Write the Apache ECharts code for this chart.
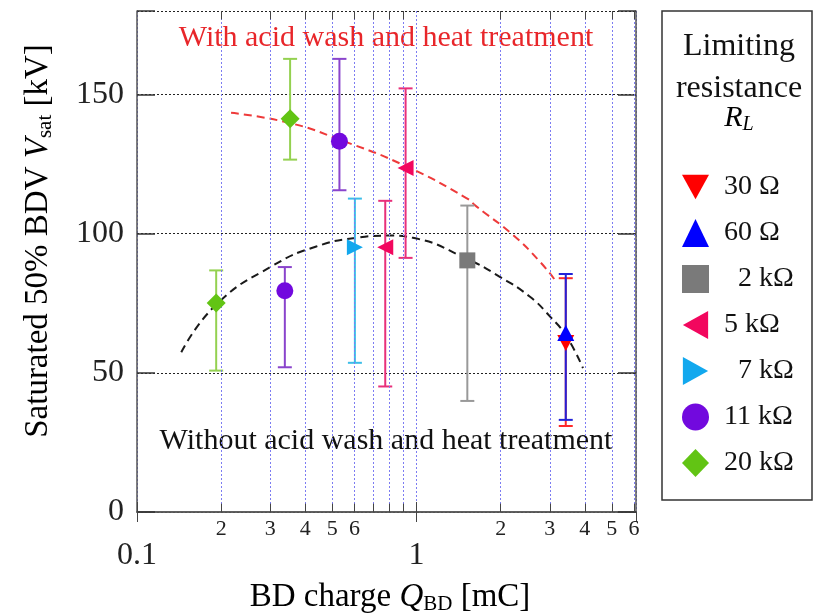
<!DOCTYPE html>
<html>
<head>
<meta charset="utf-8">
<script src="https://cdn.jsdelivr.net/npm/echarts@6/dist/echarts.min.js"></script>
<style>
html, body { margin: 0; padding: 0; background: #fff; }
#main { width: 814px; height: 616px; }
</style>
</head>
<body>
<div id="main"></div>
<script>
// each point: [Q_BD (mC), V_sat (kV), lower end of bar, upper end of bar]
var r30 = [[3.42, 60.7, 30.9, 84.0]];
var r60 = [[3.42, 64.3, 33.1, 85.5]];
var r2k = [[1.52, 90.4, 39.9, 110.1]];
var r5k = [[0.773, 95.1, 45.1, 111.8], [0.914, 123.6, 91.3, 152.2]];
var r7k = [[0.602, 95.1, 53.6, 112.6]];
var r11k = [[0.338, 79.5, 52.0, 88.0], [0.530, 133.2, 115.6, 162.8]];
var r20k = [[0.192, 75.1, 50.8, 86.8], [0.353, 141.3, 126.6, 162.8]];

// dashed trend curves
var fitWith = [[0.217, 143.4], [0.351, 139.8], [0.530, 133.8], [0.919, 124.2],
  [1.508, 112.8], [1.637, 109.8], [2.21, 99.6], [2.76, 90.0], [3.12, 83.5]];
var fitWithout = [[0.144, 57.4], [0.192, 74.5], [0.306, 88.5], [0.438, 95.4],
  [0.609, 98.5], [0.801, 99.3], [0.971, 98.5], [1.52, 90.9], [1.98, 84.6],
  [2.54, 77.4], [3.0, 70.3], [3.44, 63.1], [3.94, 51.7]];

// log axis minor grid / labels
var xMinorTicks = [0.2, 0.3, 0.4, 0.5, 0.6, 0.7, 0.8, 0.9, 2, 3, 4, 5, 6];
var xMinorLabels = [0.2, 0.3, 0.4, 0.5, 0.6, 2, 3, 4, 5, 6];
var yTicks = [0, 50, 100, 150];

var FONT = '"Liberation Serif", "DejaVu Serif", serif';

var TRI_DOWN = 'path://M0,0L10,0L5,9Z';
var TRI_LEFT = 'path://M9,0L9,10L0,5Z';
var TRI_RIGHT = 'path://M0,0L9,5L0,10Z';

var groups = [
  { name: '30 Ω', data: r30, color: '#ff0000', bar: '#ff2a2a', symbol: TRI_DOWN, size: [17, 16] },
  { name: '60 Ω', data: r60, color: '#0000ff', bar: '#2222d8', symbol: 'triangle', size: [17, 16] },
  { name: '2 kΩ', data: r2k, color: '#7a7a7a', bar: '#999999', symbol: 'rect', size: 16 },
  { name: '5 kΩ', data: r5k, color: '#f2075e', bar: '#e8307a', symbol: TRI_LEFT, size: [16, 16] },
  { name: '7 kΩ', data: r7k, color: '#12a8ee', bar: '#3cbde8', symbol: TRI_RIGHT, size: [16, 16] },
  { name: '11 kΩ', data: r11k, color: '#7209de', bar: '#8a44cc', symbol: 'circle', size: 17 },
  { name: '20 kΩ', data: r20k, color: '#62c414', bar: '#94d150', symbol: 'diamond', size: 19 }
];

function errorBar(color) {
  return function (params, api) {
    var x = api.value(0);
    var top = api.coord([x, api.value(3)]);
    var bot = api.coord([x, api.value(2)]);
    var w = 7;
    var st = { stroke: color, lineWidth: 2 };
    return {
      type: 'group',
      children: [
        { type: 'line', shape: { x1: top[0], y1: top[1], x2: bot[0], y2: bot[1] }, style: st },
        { type: 'line', shape: { x1: top[0] - w, y1: top[1], x2: top[0] + w, y2: top[1] }, style: st },
        { type: 'line', shape: { x1: bot[0] - w, y1: bot[1], x2: bot[0] + w, y2: bot[1] }, style: st }
      ]
    };
  };
}

function minorLabel(v) {
  return String(v < 1 ? Math.round(v * 10) : v);
}

var series = [];

// trend curves, the black one also carries the minor grid
series.push({
  type: 'line',
  name: 'fitWithout',
  data: fitWithout,
  smooth: true,
  showSymbol: false,
  silent: true,
  z: 3,
  lineStyle: { color: '#1a1a1a', width: 2, type: [8, 5] },
  markLine: {
    silent: true,
    symbol: 'none',
    animation: false,
    lineStyle: { color: '#7c7cf2', width: 1, type: [2, 2] },
    label: {
      position: 'start',
      distance: 6,
      fontFamily: FONT,
      fontSize: 22,
      color: '#222'
    },
    data: xMinorTicks.map(function (v) {
      return {
        xAxis: v,
        label: { show: xMinorLabels.indexOf(v) >= 0, formatter: minorLabel(v) }
      };
    })
  }
});
series.push({
  type: 'line',
  name: 'fitWith',
  data: fitWith,
  smooth: true,
  showSymbol: false,
  silent: true,
  z: 3,
  lineStyle: { color: '#ee3a3a', width: 2, type: [8, 5] },
  markLine: {
    silent: true,
    symbol: 'none',
    animation: false,
    label: { show: false },
    lineStyle: { color: '#444', width: 1, type: 'solid' },
    data: xMinorTicks.map(function (v) {
      return [{ coord: [v, 0] }, { coord: [v, 3] }];
    }).concat(xMinorTicks.map(function (v) {
      return [{ coord: [v, 177] }, { coord: [v, 180] }];
    }))
  }
});

groups.forEach(function (g) {
  series.push({
    type: 'custom',
    name: g.name + ' bar',
    data: g.data,
    encode: { x: 0, y: 1 },
    renderItem: errorBar(g.bar),
    silent: true,
    z: 4
  });
});
groups.forEach(function (g) {
  series.push({
    type: 'scatter',
    name: g.name,
    data: g.data.map(function (d) { return [d[0], d[1]]; }),
    symbol: g.symbol,
    symbolSize: g.size,
    itemStyle: { color: g.color, opacity: 1 },
    z: 5
  });
});

var axisLine = { show: true, lineStyle: { color: '#555', width: 1.5 } };

var option = {
  animation: false,
  backgroundColor: '#fff',
  grid: { left: 137, right: 178, top: 11, bottom: 104 },
  xAxis: [
    {
      type: 'log',
      logBase: 10,
      min: 0.1,
      max: 6.1,
      position: 'bottom',
      axisLine: axisLine,
      axisTick: { inside: true, length: 10, lineStyle: { color: '#444' } },
      axisLabel: {
        margin: 28,
        fontFamily: FONT,
        fontSize: 32,
        color: '#222',
        showMaxLabel: false,
        formatter: function (v) { return v < 0.5 ? '0.1' : '1'; }
      },
      splitLine: { show: true, lineStyle: { color: '#7c7cf2', width: 1, type: [2, 2] } }
    },
    {
      type: 'log',
      logBase: 10,
      min: 0.1,
      max: 6.1,
      position: 'top',
      axisLine: axisLine,
      axisTick: { inside: true, length: 10, lineStyle: { color: '#444' } },
      axisLabel: { show: false },
      splitLine: { show: false }
    }
  ],
  yAxis: [
    {
      type: 'value',
      min: 0,
      max: 180,
      interval: 50,
      position: 'left',
      axisLine: axisLine,
      axisTick: { inside: true, length: 18, lineStyle: { color: '#333', width: 1.5 } },
      axisLabel: {
        margin: 13,
        fontFamily: FONT,
        fontSize: 32,
        color: '#222',
        formatter: function (v) { return yTicks.indexOf(v) >= 0 ? String(v) : ''; }
      },
      splitLine: { show: true, lineStyle: { color: '#222', width: 1, type: [2, 2] } }
    },
    {
      type: 'value',
      min: 0,
      max: 180,
      interval: 50,
      position: 'right',
      axisLine: axisLine,
      axisTick: { inside: true, length: 18, lineStyle: { color: '#333', width: 1.5 } },
      axisLabel: { show: false },
      splitLine: { show: false }
    }
  ],
  legend: {
    orient: 'vertical',
    left: 677,
    top: 168,
    itemWidth: 27,
    itemHeight: 28,
    itemGap: 18,
    selectedMode: false,
    data: groups.map(function (g) { return g.name; }),
    formatter: function (name) {
      var pad = (name === '2 kΩ' || name === '7 kΩ') ? '\u2002' : '';
      return '{a|' + pad + name + '}';
    },
    textStyle: {
      rich: {
        a: { fontFamily: FONT, fontSize: 28, lineHeight: 28, color: '#111', padding: [0, 0, 0, 10] }
      }
    }
  },
  graphic: [
    {
      type: 'rect',
      shape: { x: 662, y: 11, width: 150, height: 489 },
      style: { fill: 'none', stroke: '#333', lineWidth: 1.5 },
      silent: true
    },
    {
      type: 'text', x: 739, y: 47, silent: true,
      style: { text: 'Limiting', font: '32px ' + FONT, fill: '#111', align: 'center', verticalAlign: 'middle' }
    },
    {
      type: 'text', x: 739, y: 89, silent: true,
      style: { text: 'resistance', font: '32px ' + FONT, fill: '#111', align: 'center', verticalAlign: 'middle' }
    },
    {
      type: 'text', x: 739, y: 118, silent: true,
      style: {
        text: '{i|R}{s|L}', align: 'center', verticalAlign: 'middle',
        rich: {
          i: { fontFamily: FONT, fontStyle: 'italic', fontSize: 30, color: '#111', lineHeight: 34 },
          s: { fontFamily: FONT, fontStyle: 'italic', fontSize: 20, color: '#111', lineHeight: 34, verticalAlign: 'bottom', padding: [12, 0, 0, 0] }
        }
      }
    },
    {
      type: 'text', x: 386, y: 38, silent: true,
      style: { text: 'With acid wash and heat treatment', font: '30px ' + FONT, fill: '#e8262a', align: 'center', verticalAlign: 'middle' }
    },
    {
      type: 'text', x: 386, y: 441, silent: true,
      style: { text: 'Without acid wash and heat treatment', font: '30px ' + FONT, fill: '#111', align: 'center', verticalAlign: 'middle' }
    },
    {
      type: 'text', x: 390, y: 597, silent: true,
      style: {
        text: '{n|BD charge }{i|Q}{s|BD}{n| [mC]}', align: 'center', verticalAlign: 'middle',
        rich: {
          n: { fontFamily: FONT, fontSize: 33, color: '#111', lineHeight: 36 },
          i: { fontFamily: FONT, fontStyle: 'italic', fontSize: 33, color: '#111', lineHeight: 36 },
          s: { fontFamily: FONT, fontSize: 21, color: '#111', lineHeight: 36, verticalAlign: 'bottom', padding: [12, 0, 0, 0] }
        }
      }
    },
    {
      type: 'text', x: 38, y: 241, rotation: Math.PI / 2, silent: true,
      style: {
        text: '{n|Saturated 50% BDV }{i|V}{s|sat}{n| [kV]}', align: 'center', verticalAlign: 'middle',
        rich: {
          n: { fontFamily: FONT, fontSize: 33, color: '#111', lineHeight: 36 },
          i: { fontFamily: FONT, fontStyle: 'italic', fontSize: 33, color: '#111', lineHeight: 36 },
          s: { fontFamily: FONT, fontSize: 21, color: '#111', lineHeight: 36, verticalAlign: 'bottom', padding: [12, 0, 0, 0] }
        }
      }
    }
  ],
  series: series
};

var chart = echarts.init(document.getElementById('main'), null, { renderer: 'canvas' });
chart.setOption(option);
</script>
</body>
</html>
